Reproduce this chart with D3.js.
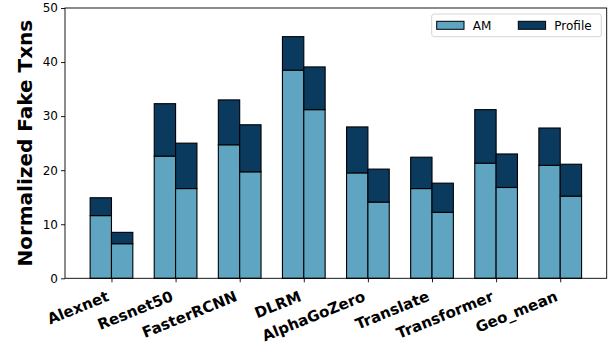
<!DOCTYPE html>
<html>
<head>
<meta charset="utf-8">
<script src="https://cdn.jsdelivr.net/npm/d3@7"></script>
<style>
  html, body { margin: 0; padding: 0; background: #fff; }
  svg { display: block; }
  text { font-family: "DejaVu Sans", sans-serif; }
</style>
</head>
<body>
<svg id="chart" width="610" height="349"></svg>
<script>
// Benchmarks on the x axis
const categories = ["Alexnet", "Resnet50", "FasterRCNN", "DLRM", "AlphaGoZero", "Translate", "Transformer", "Geo_mean"];

// Left bar of each pair: AM part and the extra Profile part stacked on top
const amLeft      = [11.6, 22.6, 24.7, 38.5, 19.5, 16.6, 21.3, 20.9];
const profileLeft = [ 3.3,  9.7,  8.3,  6.2,  8.5,  5.8,  9.9,  6.9];

// Right bar of each pair
const amRight      = [ 6.4, 16.6, 19.7, 31.2, 14.1, 12.2, 16.8, 15.2];
const profileRight = [ 2.1,  8.4,  8.7,  7.9,  6.1,  5.4,  6.2,  5.9];

const yTicks = [0, 10, 20, 30, 40, 50];
const seriesNames = ["AM", "Profile"];
const colors = { AM: "#5fa4c0", Profile: "#0b3a5f" };

const barW = 0.333;
const svg = d3.select("#chart");
const plotL = 65, plotR = 606.7, plotT = 8, plotB = 278.3;

const x = d3.scaleLinear().domain([-0.725, categories.length - 1 + 0.725]).range([plotL, plotR]);
const y = d3.scaleLinear().domain([0, 50]).range([plotB, plotT]);

// Build stacked segments
const segs = [];
categories.forEach((c, i) => {
  segs.push({ x0: i - barW, x1: i, y0: 0, y1: amLeft[i], s: "AM" });
  segs.push({ x0: i - barW, x1: i, y0: amLeft[i], y1: amLeft[i] + profileLeft[i], s: "Profile" });
  segs.push({ x0: i, x1: i + barW, y0: 0, y1: amRight[i], s: "AM" });
  segs.push({ x0: i, x1: i + barW, y0: amRight[i], y1: amRight[i] + profileRight[i], s: "Profile" });
});

svg.append("g").selectAll("rect").data(segs).join("rect")
  .attr("x", d => x(d.x0))
  .attr("width", d => x(d.x1) - x(d.x0))
  .attr("y", d => y(d.y1))
  .attr("height", d => y(d.y0) - y(d.y1))
  .attr("fill", d => colors[d.s])
  .attr("stroke", "#000")
  .attr("stroke-width", 1.1);

// Axes
const yAxis = d3.axisLeft(y).tickValues(yTicks).tickSize(4).tickPadding(3);
const gy = svg.append("g").attr("transform", `translate(${plotL},0)`).call(yAxis);
gy.select(".domain").remove();
gy.selectAll("line").attr("stroke", "#000").attr("stroke-width", 0.9);
gy.selectAll("text").attr("font-size", 12).attr("fill", "#000")
  .attr("font-family", "DejaVu Sans");

const xAxis = d3.axisBottom(x).tickValues(d3.range(categories.length)).tickFormat(i => categories[i]).tickSize(4);
const gx = svg.append("g").attr("transform", `translate(0,${plotB})`).call(xAxis);
gx.select(".domain").remove();
gx.selectAll("line").attr("stroke", "#000").attr("stroke-width", 0.9);
gx.selectAll("text")
  .attr("font-size", 15).attr("font-weight", "bold").attr("fill", "#000")
  .attr("font-family", "DejaVu Sans")
  .attr("text-anchor", "end")
  .attr("dy", null)
  .attr("y", 0)
  .attr("transform", "translate(-2,22) rotate(-22)");

// Frame
svg.append("rect")
  .attr("x", plotL).attr("y", plotT)
  .attr("width", plotR - plotL).attr("height", plotB - plotT)
  .attr("fill", "none").attr("stroke", "#000").attr("stroke-width", 0.9);

// Y axis title
svg.append("text")
  .attr("transform", `translate(31.5,${(plotT + plotB) / 2}) rotate(-90)`)
  .attr("text-anchor", "middle")
  .attr("font-size", 20).attr("font-weight", "bold")
  .text("Normalized Fake Txns");

// Legend
const lg = svg.append("g");
lg.append("rect")
  .attr("x", 431.7).attr("y", 14).attr("width", 169.6).attr("height", 22.7)
  .attr("rx", 2.5).attr("fill", "#fff").attr("fill-opacity", 0.8)
  .attr("stroke", "#d0d0d0").attr("stroke-width", 0.9);
const legendX = [436.7, 518.3];
seriesNames.forEach((s, k) => {
  lg.append("rect")
    .attr("x", legendX[k]).attr("y", 21.3).attr("width", 27.3).attr("height", 8)
    .attr("fill", colors[s]).attr("stroke", "#000").attr("stroke-width", 1);
  lg.append("text")
    .attr("x", legendX[k] + 36).attr("y", 29.5)
    .attr("font-size", 12).attr("fill", "#000")
    .text(s);
});
</script>
</body>
</html>
